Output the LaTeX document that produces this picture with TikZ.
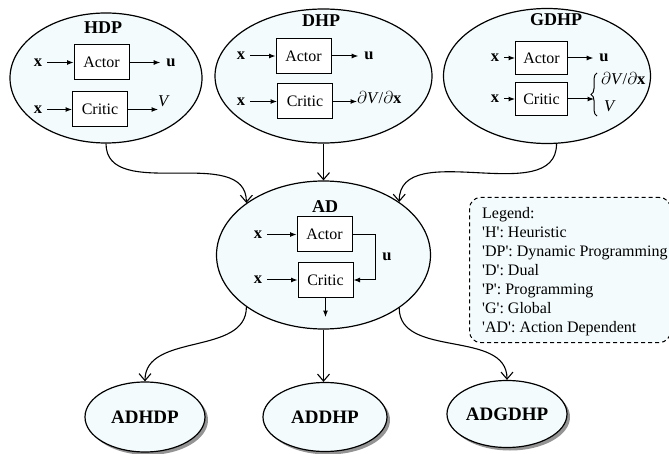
\documentclass[tikz,border=0pt]{standalone}
\usepackage{fontspec}
\setmainfont{Liberation Serif}
\usetikzlibrary{shapes.geometric,arrows.meta,shadows,decorations.pathreplacing}
\definecolor{bubblefill}{RGB}{244,251,253}

\tikzset{
  bubble/.style={ellipse, draw, line width=1.2pt, fill=bubblefill, inner sep=0pt},
  leaf/.style={bubble, drop shadow={shadow xshift=3pt, shadow yshift=-3pt, fill=black!70, opacity=0.6},
    font=\bfseries\fontsize{19}{21}\selectfont},
  title/.style={font=\bfseries\fontsize{18}{20}\selectfont, inner sep=0pt},
  block/.style={draw, line width=1pt, fill=white, minimum width=55pt, minimum height=35pt,
    inner sep=0pt, font=\fontsize{16}{19}\selectfont},
  var/.style={inner sep=0pt, font=\fontsize{16.5}{19}\selectfont},
  sig/.style={-{Latex[length=6.5pt,width=5pt]}, line width=1pt},
  link/.style={-{Straight Barb[length=7pt,width=12pt]}, line width=1.1pt},
  legendbox/.style={draw, line width=1pt, dash pattern=on 4pt off 3pt, rounded corners=11pt,
    fill=bubblefill, inner sep=0pt},
  legendtext/.style={inner sep=0pt, anchor=base west, font=\fontsize{16}{19}\selectfont}
}
\newcommand{\sq}{\textquotesingle}

\begin{document}
\begin{tikzpicture}[x=1pt, y=-1pt]
\useasboundingbox (0,0) rectangle (669,454);

% ---------- HDP ----------
\node[bubble, minimum width=192pt, minimum height=130pt] (hdp) at (106,78) {};
\node[title] (hdpt) at (103,28) {HDP};
\node[block] (ha) at (101.5,62.5) {Actor};
\node[block] (hc) at (100,109.5) {Critic};
\node[var] (hx1) at (38,62.5) {\textbf{x}};
\node[var] (hx2) at (38,109.5) {\textbf{x}};
\node[var] (hu) at (171,62.5) {\textbf{u}};
\node[var, anchor=west] (hv) at (158,101) {\textit{V}};
\draw[sig, shorten <=5pt] (hx1) -- (ha);
\draw[sig, shorten <=5pt] (hx2) -- (hc);
\draw[sig, shorten >=6pt] (ha) -- (hu);
\draw[sig] (hc.east) -- (hc.east -| hv.west);

% ---------- DHP ----------
\node[bubble, minimum width=217pt, minimum height=134pt] (dhp) at (323.5,76) {};
\node[title] (dhpt) at (321,21) {DHP};
\node[block] (da) at (303.5,56) {Actor};
\node[block] (dc) at (305,101.5) {Critic};
\node[var] (dx1) at (241,56) {\textbf{x}};
\node[var] (dx2) at (241,101.5) {\textbf{x}};
\node[var] (du) at (369,56) {\textbf{u}};
\node[var, anchor=west] (ddv) at (357,98) {$\partial$\textit{V}/$\partial$\textbf{x}};
\draw[sig, shorten <=5pt] (dx1) -- (da);
\draw[sig, shorten <=5pt] (dx2) -- (dc);
\draw[sig, shorten >=6pt] (da) -- (du);
\draw[sig] (dc.east) -- (dc.east -| ddv.west);

% ---------- GDHP ----------
\node[bubble, minimum width=207pt, minimum height=135pt] (gdhp) at (547,76) {};
\node[title] (gdhpt) at (556,20) {GDHP};
\node[block, minimum width=52pt, minimum height=33pt] (ga) at (541.5,58) {Actor};
\node[block, minimum width=52pt, minimum height=33pt] (gc) at (541.5,99) {Critic};
\node[var] (gx1) at (495,58) {\textbf{x}};
\node[var] (gx2) at (495,99) {\textbf{x}};
\node[var] (gu) at (604,58) {\textbf{u}};
\coordinate (gbt) at (597,73);
\coordinate (gbb) at (597,116);
\draw[line width=1pt, decorate, decoration={brace, amplitude=6pt}] (gbb) -- (gbt);
\node[var, anchor=west] (gdv) at (601,79) {$\partial$\textit{V}/$\partial$\textbf{x}};
\node[var, anchor=west] (gv) at (604,106) {\textit{V}};
\draw[sig, shorten <=5pt] (gx1) -- (ga);
\draw[sig, shorten <=5pt] (gx2) -- (gc);
\draw[sig, shorten >=6pt] (ga) -- (gu);
\draw[sig, shorten >=3pt] (gc.east) -- (gc.east -| gbt);

% ---------- AD ----------
\node[bubble, minimum width=214pt, minimum height=148pt] (ad) at (323.5,255) {};
\node[title] (adt) at (325,207) {AD};
\node[block] (aa) at (324.5,234.5) {Actor};
\node[block] (ac) at (325.5,280) {Critic};
\node[var] (ax1) at (258,234.5) {\textbf{x}};
\node[var] (ax2) at (258,280) {\textbf{x}};
\coordinate (fb) at (375.5,257);
\node[var] (au) at (387,257) {\textbf{u}};
\coordinate (aout) at (325.5,317);
\draw[sig, shorten <=5pt] (ax1) -- (aa);
\draw[sig, shorten <=5pt] (ax2) -- (ac);
\draw[sig] (aa.east) -| (fb) |- (ac.east);
\draw[sig] (ac.south) -- (aout);

% ---------- action-dependent variants ----------
\node[leaf, minimum width=120pt, minimum height=70pt] (adhdp) at (145,417) {ADHDP};
\node[leaf, minimum width=124pt, minimum height=69pt] (addhp) at (325,417) {ADDHP};
\node[leaf, minimum width=120pt, minimum height=67pt] (adgdhp) at (507,414) {ADGDHP};

% ---------- links between the designs ----------
\draw[link] (hdp.south) to[out=-90, in=90] (ad.146);
\draw[link] (dhp.south) -- (ad.north);
\draw[link] (gdhp.-82) to[out=-90, in=90] (ad.35);
\draw[link] (ad.214) to[out=-90, in=90] (adhdp.north);
\draw[link] (ad.south) -- (ad.south |- addhp.north);
\draw[link] (ad.-35) to[out=-90, in=90] (adgdhp.north);

% ---------- legend ----------
\node[legendbox, anchor=north west, minimum width=201pt, minimum height=145pt] (legend) at (469,197) {};
\node[legendtext] (lg0) at (482,218.5) {Legend:};
\node[legendtext] (lg1) at (482,237.5) {\sq H\sq: Heuristic};
\node[legendtext] (lg2) at (482,256.5) {\sq DP\sq: Dynamic Programming};
\node[legendtext] (lg3) at (482,275.5) {\sq D\sq: Dual};
\node[legendtext] (lg4) at (482,294.5) {\sq P\sq: Programming};
\node[legendtext] (lg5) at (482,313.5) {\sq G\sq: Global};
\node[legendtext] (lg6) at (482,332.5) {\sq AD\sq: Action Dependent};
\end{tikzpicture}
\end{document}
